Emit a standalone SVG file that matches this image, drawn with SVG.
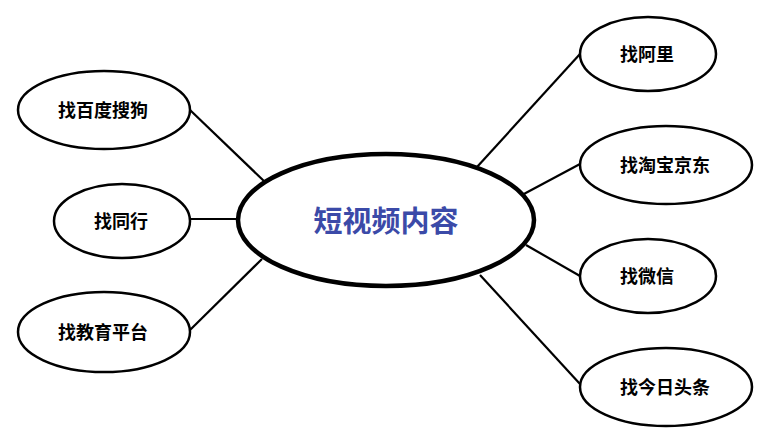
<svg xmlns="http://www.w3.org/2000/svg" width="763" height="442" viewBox="0 0 763 442">
<style>
.n{fill:#fff;stroke:#000;stroke-width:2.5}
.c{fill:#fff;stroke:#000;stroke-width:4.5}
.t{font-family:"Noto Sans CJK SC","Noto Sans CJK JP",sans-serif;font-weight:bold;font-size:18px;fill:#000;text-anchor:middle;dominant-baseline:central}
.ct{font-family:"Noto Sans CJK SC","Noto Sans CJK JP",sans-serif;font-weight:bold;font-size:29px;fill:#3b4aa8;text-anchor:middle;dominant-baseline:central}
.l{stroke:#000;stroke-width:2.2;fill:none}
</style>
<rect width="763" height="442" fill="#fff"/>
<g id="connectors">
<line class="l" x1="190" y1="110" x2="265" y2="182"/>
<line class="l" x1="190" y1="219" x2="242" y2="219"/>
<line class="l" x1="190" y1="330" x2="262" y2="259"/>
<line class="l" x1="580" y1="54" x2="477" y2="167"/>
<line class="l" x1="580" y1="164" x2="522" y2="195"/>
<line class="l" x1="580" y1="276" x2="526" y2="245"/>
<line class="l" x1="580" y1="384" x2="480" y2="275"/>
</g>
<g id="center">
<ellipse class="c" cx="386" cy="220" rx="148" ry="66"/>
<text class="ct" x="386" y="219">短视频内容</text>
</g>
<g id="n-baidu">
<ellipse class="n" cx="104" cy="110" rx="86" ry="39"/>
<text class="t" x="103" y="109">找百度搜狗</text>
</g>
<g id="n-tonghang">
<ellipse class="n" cx="122" cy="221" rx="68" ry="37"/>
<text class="t" x="121" y="220">找同行</text>
</g>
<g id="n-jiaoyu">
<ellipse class="n" cx="104" cy="332" rx="86" ry="40"/>
<text class="t" x="103" y="331">找教育平台</text>
</g>
<g id="n-ali">
<ellipse class="n" cx="648" cy="54" rx="68" ry="37"/>
<text class="t" x="647" y="53">找阿里</text>
</g>
<g id="n-taobao">
<ellipse class="n" cx="666" cy="165" rx="86" ry="39"/>
<text class="t" x="665" y="164">找淘宝京东</text>
</g>
<g id="n-weixin">
<ellipse class="n" cx="648" cy="276" rx="68" ry="37"/>
<text class="t" x="647" y="275">找微信</text>
</g>
<g id="n-toutiao">
<ellipse class="n" cx="666" cy="387" rx="86" ry="39"/>
<text class="t" x="665" y="386">找今日头条</text>
</g>
</svg>
